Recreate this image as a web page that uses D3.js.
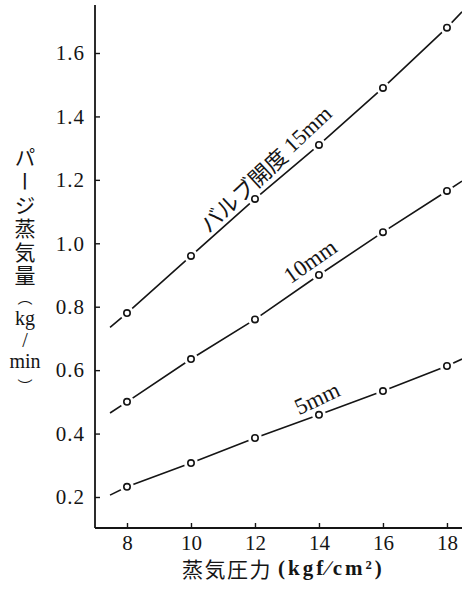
<!DOCTYPE html>
<html><head><meta charset="utf-8">
<script src="https://cdn.jsdelivr.net/npm/d3@7"></script>
<style>
html,body{margin:0;padding:0;background:#fff;}
svg{display:block;}
</style></head>
<body>
<svg id="c" width="462" height="590"></svg>
<script>
// ---- data ----
const pressure = [8, 10, 12, 14, 16, 18];              // kgf/cm2
const flow15 = [0.78, 0.96, 1.14, 1.31, 1.49, 1.68];   // kg/min, valve 15mm
const flow10 = [0.50, 0.635, 0.76, 0.90, 1.035, 1.165];
const flow5  = [0.232, 0.307, 0.386, 0.459, 0.534, 0.613];
const seriesLabels = ["バルブ開度 15mm", "10mm", "5mm"];
const lineStartX = [7.47, 7.47, 7.47];
const lineStartY = [0.735, 0.465, 0.206];
const lineEndX = [18.47, 18.47, 18.47];
const lineEndY = [1.73, 1.196, 0.635];
const xTicks = [8, 10, 12, 14, 16, 18];
const yTicks = [0.2, 0.4, 0.6, 0.8, 1.0, 1.2, 1.4, 1.6];

const svg = d3.select("#c");
const x = d3.scaleLinear().domain([7.0, 18.47]).range([95, 462]);
const y = d3.scaleLinear().domain([0.2, 1.6]).range([497, 53]);
const yBottom = 528, yTop = 5;

const ink = "#151515";
const serif = "'Liberation Serif','DejaVu Serif',serif";
const jp = "'Noto Sans CJK JP','Noto Sans CJK SC',sans-serif";

// axes
const gx = svg.append("g").attr("transform", `translate(0,${yBottom})`)
  .call(d3.axisBottom(x).tickValues(xTicks).tickSizeInner(-5).tickSizeOuter(0).tickPadding(7).tickFormat(d3.format("d")));
const gy = svg.append("g").attr("transform", `translate(95,0)`)
  .call(d3.axisLeft(y).tickValues(yTicks).tickSizeInner(-5).tickSizeOuter(0).tickPadding(10).tickFormat(d3.format(".1f")));
gx.select(".domain").remove();
gy.select(".domain").remove();
svg.append("line").attr("x1", 95).attr("x2", 462).attr("y1", yBottom).attr("y2", yBottom)
  .attr("stroke", ink).attr("stroke-width", 1.8);
svg.append("line").attr("x1", 95).attr("x2", 95).attr("y1", yTop).attr("y2", yBottom)
  .attr("stroke", ink).attr("stroke-width", 1.8);
[gx, gy].forEach(g => {
  g.selectAll(".tick line").attr("stroke", ink).attr("stroke-width", 1.4);
  g.selectAll(".tick text").attr("font-family", serif).attr("font-size", 21).attr("fill", ink);
});
gy.selectAll(".tick text").attr("letter-spacing", 1);

// series
const series = [flow15, flow10, flow5];
const line = d3.line().x(d => x(d[0])).y(d => y(d[1]));
series.forEach((vals, i) => {
  const pts = [[lineStartX[i], lineStartY[i]]]
    .concat(pressure.map((p, j) => [p, vals[j]]))
    .concat([[lineEndX[i], lineEndY[i]]]);
  svg.append("path").attr("d", line(pts)).attr("fill", "none")
    .attr("stroke", ink).attr("stroke-width", 1.6);
  const g = svg.append("g");
  g.selectAll("circle.m").data(pressure).join("circle").attr("class", "m")
    .attr("cx", (p) => x(p)).attr("cy", (p, j) => y(vals[j])).attr("r", 7).attr("fill", "#fff");
  g.selectAll("circle.o").data(pressure).join("circle").attr("class", "o")
    .attr("cx", (p) => x(p)).attr("cy", (p, j) => y(vals[j])).attr("r", 3.2)
    .attr("fill", "#fff").attr("stroke", ink).attr("stroke-width", 1.6);
});

// series labels
function lab(cx, cy, ang, size, parts) {
  const t = svg.append("text").attr("transform", `translate(${cx},${cy}) rotate(${ang})`)
    .attr("text-anchor", "middle").attr("dominant-baseline", "central")
    .attr("font-size", size).attr("fill", ink);
  parts.forEach(p => t.append("tspan").attr("font-family", p[1]).text(p[0]));
}
lab(265, 168, -43, 22, [["バルブ開度", jp], ["\u00a015mm", serif]]);
lab(310, 261, -35, 23, [[seriesLabels[1], serif]]);
lab(317, 398, -25, 23, [[seriesLabels[2], serif]]);

// y axis title (vertical)
svg.append("text").attr("x", 25).attr("y", 147)
  .style("writing-mode", "vertical-rl")
  .attr("font-family", jp).attr("font-size", 21).attr("letter-spacing", 2.6)
  .attr("fill", ink).text("パージ蒸気量");
function vpart(txt, cy, fam, size) {
  svg.append("text").attr("x", 25).attr("y", cy)
    .attr("text-anchor", "middle").attr("dominant-baseline", "central")
    .attr("font-family", fam).attr("font-size", size).attr("fill", ink).text(txt);
}
vpart("︵", 296, jp, 15);
vpart("kg", 318, serif, 20);
vpart("/", 340, serif, 20);
vpart("min", 361, serif, 20);
vpart("︶", 385, jp, 15);

// x axis title
const xt = svg.append("text").attr("x", 182).attr("y", 568).attr("dominant-baseline", "central")
  .attr("fill", ink);
xt.append("tspan").attr("font-family", jp).attr("font-size", 21).attr("letter-spacing", 1.5).text("蒸気圧力");
xt.append("tspan").attr("font-family", serif).attr("font-size", 21).attr("font-weight", "bold").attr("dx", 6).attr("letter-spacing", 3).text("(kgf∕cm²)");
</script>
</body></html>
